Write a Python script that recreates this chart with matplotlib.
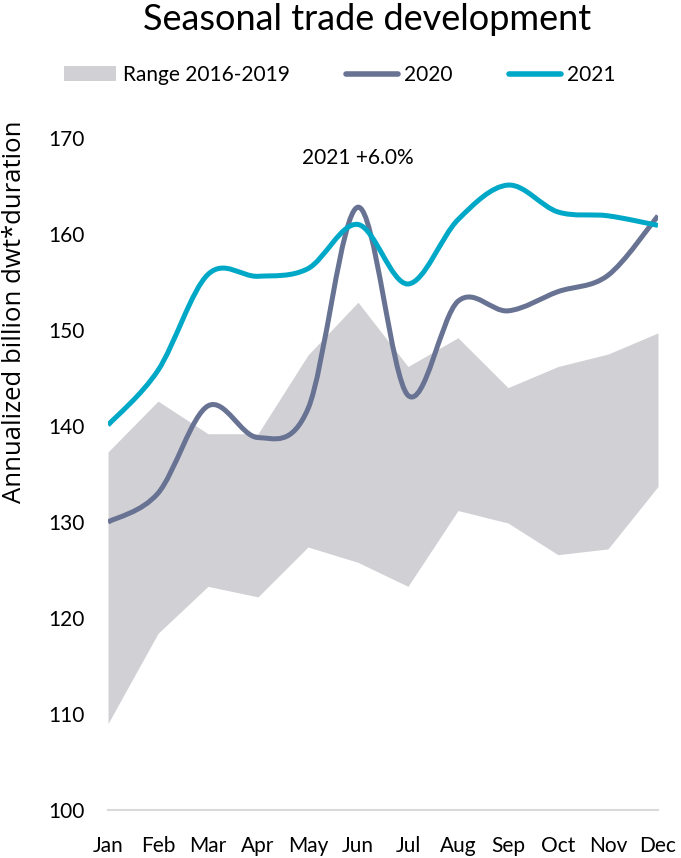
import matplotlib.pyplot as plt
from matplotlib.path import Path
from matplotlib.patches import PathPatch, Patch
from matplotlib.lines import Line2D

plt.rcParams['font.family'] = ['Lato', 'DejaVu Sans']

months = ['Jan', 'Feb', 'Mar', 'Apr', 'May', 'Jun', 'Jul', 'Aug', 'Sep', 'Oct', 'Nov', 'Dec']
range_low = [109.0, 118.4, 123.3, 122.2, 127.4, 125.8, 123.3, 131.2, 129.9, 126.6, 127.2, 133.7]
range_high = [137.3, 142.6, 139.2, 139.2, 147.4, 152.9, 146.2, 149.2, 144.0, 146.2, 147.5, 149.7]
trade_2020 = [130.0, 133.0, 142.1, 138.8, 141.8, 162.8, 143.2, 153.0, 152.0, 154.0, 155.7, 161.9]
trade_2021 = [140.1, 145.8, 155.8, 155.6, 156.4, 161.0, 154.8, 161.5, 165.1, 162.3, 161.9, 160.9]
growth_note = '2021 +6.0%'

COL_RANGE = '#D1D0D5'
COL_2020 = '#687393'
COL_2021 = '#00A8C7'


def smooth_path(xs, ys):
    # cubic bezier through every point, Excel-style smoothing
    n = len(xs)
    verts = [(xs[0], ys[0])]
    codes = [Path.MOVETO]
    for i in range(n - 1):
        p0 = max(i - 1, 0)
        p3 = min(i + 2, n - 1)
        c1 = (xs[i] + (xs[i + 1] - xs[p0]) / 6, ys[i] + (ys[i + 1] - ys[p0]) / 6)
        c2 = (xs[i + 1] - (xs[p3] - xs[i]) / 6, ys[i + 1] - (ys[p3] - ys[i]) / 6)
        verts += [c1, c2, (xs[i + 1], ys[i + 1])]
        codes += [Path.CURVE4] * 3
    return Path(verts, codes)


x = list(range(len(months)))

fig = plt.figure(figsize=(6.81, 8.58), dpi=100)
ax = fig.add_axes([0.1586, 0.0559, 0.8076, 0.7832])

ax.fill_between(x, range_low, range_high, color=COL_RANGE, linewidth=0)
for vals, col in [(trade_2020, COL_2020), (trade_2021, COL_2021)]:
    ax.add_patch(PathPatch(smooth_path(x, vals), fill=False, edgecolor=col,
                           linewidth=3.6, capstyle='butt', joinstyle='round'))

ax.set_xlim(0, 11)
ax.set_ylim(100, 170)
ax.set_xticks(x)
ax.set_xticklabels(months)
ax.set_yticks(range(100, 171, 10))
ax.tick_params(length=0, labelsize=15)
ax.tick_params(axis='x', pad=19)
ax.tick_params(axis='y', pad=17)
for s in ['top', 'right', 'left']:
    ax.spines[s].set_visible(False)
ax.spines['bottom'].set_color('#D9D9D9')
ax.spines['bottom'].set_linewidth(1.5)

ax.text(5, 167.9, growth_note, ha='center', va='center', fontsize=15)

fig.text(0.539, 0.977, 'Seasonal trade development', ha='center', va='center', fontsize=26)
fig.text(0.022, 1 - 312 / 858, 'Annualized billion dwt*duration', rotation=90,
         ha='center', va='center', fontsize=18.5, family=['Open Sans', 'DejaVu Sans'])

handles = [Patch(facecolor=COL_RANGE, edgecolor='none'),
           Line2D([], [], color=COL_2020, linewidth=4, solid_capstyle='round'),
           Line2D([], [], color=COL_2021, linewidth=4, solid_capstyle='round')]
fig.legend(handles, ['Range 2016-2019', '2020', '2021'], loc='center',
           bbox_to_anchor=(340 / 681, 1 - 75 / 858), ncol=3, frameon=False,
           fontsize=15, handlelength=2.5, handletextpad=0.3, columnspacing=2.7)

fig.savefig('out.png', dpi=100)
